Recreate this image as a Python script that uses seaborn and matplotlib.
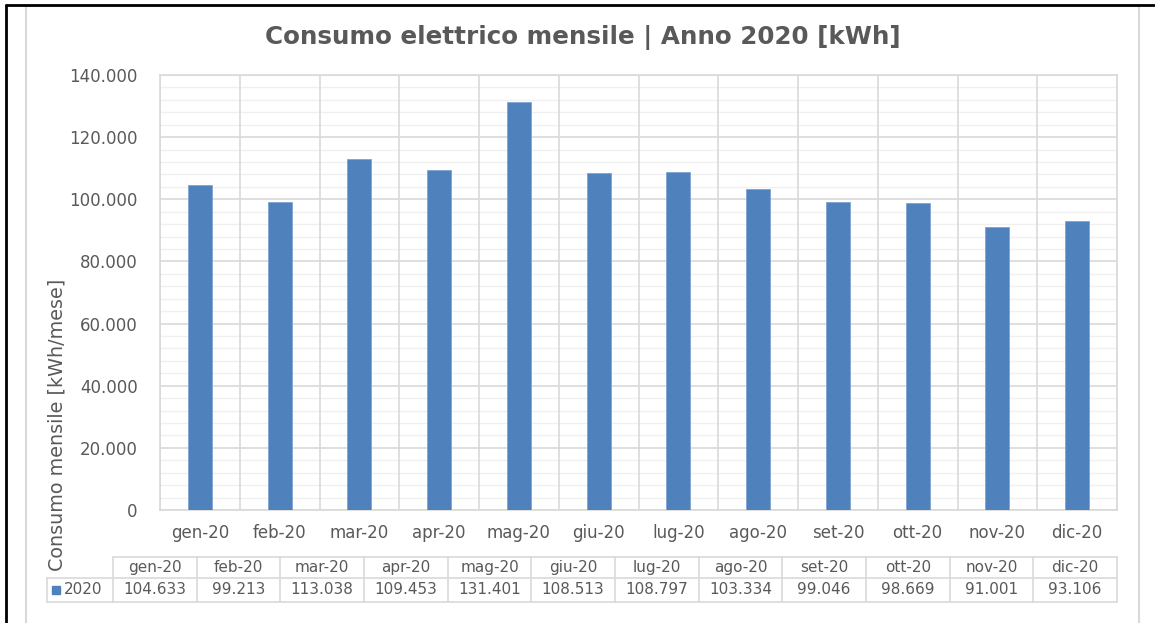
import matplotlib
matplotlib.use("Agg")
import matplotlib.pyplot as plt
from matplotlib.lines import Line2D
from matplotlib.patches import Rectangle
from matplotlib.ticker import MultipleLocator, FuncFormatter
import seaborn as sns
import pandas as pd

months = ["gen-20", "feb-20", "mar-20", "apr-20", "mag-20", "giu-20",
          "lug-20", "ago-20", "set-20", "ott-20", "nov-20", "dic-20"]
consumption_2020 = [104633, 99213, 113038, 109453, 131401, 108513,
                    108797, 103334, 99046, 98669, 91001, 93106]
series_name = "2020"

BAR = "#4F81BD"
TXT = "#595959"
GRID_MAJOR = "#D9D9D9"
GRID_MINOR = "#F0F0F0"

sns.set_theme(style="white")
plt.rcParams["font.family"] = ["DejaVu Sans"]

W, H = 1155, 623
fig = plt.figure(figsize=(W / 100, H / 100), dpi=100)
fig.patch.set_facecolor("white")


def fx(px):
    return px / W


def fy(py):
    return 1 - py / H


def thousands(v, _=None):
    v = int(round(v))
    return "0" if v == 0 else f"{v:,}".replace(",", ".")


# chart frame and outer border
fig.add_artist(Rectangle((fx(26), fy(640)), fx(1139) - fx(26), fy(6) - fy(640),
                         transform=fig.transFigure, fill=False,
                         edgecolor=GRID_MAJOR, linewidth=1.5))
fig.add_artist(Line2D([fx(6), fx(1155)], [fy(5), fy(5)], transform=fig.transFigure,
                      color="black", linewidth=2))
fig.add_artist(Line2D([fx(6), fx(6)], [fy(5), fy(623)], transform=fig.transFigure,
                      color="black", linewidth=2))

# bar plot area
ax = fig.add_axes([fx(160), fy(510), fx(1117) - fx(160), fy(75) - fy(510)])
df = pd.DataFrame({"mese": months, "kWh": consumption_2020})
sns.barplot(data=df, x="mese", y="kWh", color=BAR, width=0.3, saturation=1,
            edgecolor="#7FA3D3", linewidth=0.6, ax=ax, zorder=3)
ax.set_ylim(0, 140000)
ax.set_xlim(-0.5, len(months) - 0.5)
ax.yaxis.set_major_locator(MultipleLocator(20000))
ax.yaxis.set_minor_locator(MultipleLocator(4000))
ax.yaxis.set_major_formatter(FuncFormatter(thousands))
ax.grid(which="major", axis="y", color=GRID_MAJOR, linewidth=1.2, zorder=0)
ax.grid(which="minor", axis="y", color=GRID_MINOR, linewidth=1.0, zorder=0)
for b in range(len(months) + 1):
    ax.axvline(b - 0.5, color=GRID_MAJOR, linewidth=1.2, zorder=1)
for s in ax.spines.values():
    s.set_color(GRID_MAJOR)
    s.set_linewidth(1.2)
ax.tick_params(axis="both", which="both", length=0, colors=TXT, labelsize=12)
ax.tick_params(axis="y", pad=16)
ax.tick_params(axis="x", pad=10)
ax.set_xlabel("")
ax.set_ylabel("")

fig.text(fx(57), fy(425), "Consumo mensile [kWh/mese]", rotation=90,
         ha="center", va="center", color=TXT, fontsize=13.8)
fig.text(fx(583), fy(38), "Consumo elettrico mensile | Anno 2020 [kWh]",
         ha="center", va="center", color=TXT, fontsize=17.7, fontweight="bold")

# data table under the axis
tx0, tx1 = 113, 1117
lx0 = 47
ty0, ty1, ty2 = 557, 578, 602
n = len(months)
cw = (tx1 - tx0) / n
tcol = GRID_MAJOR


def fline(xs, ys):
    fig.add_artist(Line2D([fx(x) for x in xs], [fy(y) for y in ys],
                          transform=fig.transFigure, color=tcol, linewidth=1.2))


fline([tx0, tx1], [ty0, ty0])
fline([lx0, tx1], [ty1, ty1])
fline([lx0, tx1], [ty2, ty2])
fline([lx0, lx0], [ty1, ty2])
for i in range(n + 1):
    x = tx0 + i * cw
    fline([x, x], [ty0, ty2])
for i, (m, v) in enumerate(zip(months, consumption_2020)):
    cx = tx0 + (i + 0.5) * cw
    fig.text(fx(cx), fy((ty0 + ty1) / 2), m, ha="center", va="center",
             color=TXT, fontsize=11)
    fig.text(fx(cx), fy((ty1 + ty2) / 2), thousands(v), ha="center", va="center",
             color=TXT, fontsize=11)
fig.add_artist(Rectangle((fx(52), fy(594)), fx(8) - fx(0), fy(0) - fy(8),
                         transform=fig.transFigure, color=BAR))
fig.text(fx(64), fy((ty1 + ty2) / 2), series_name, ha="left", va="center",
         color=TXT, fontsize=11)

fig.savefig("out.png", dpi=100, facecolor="white")
